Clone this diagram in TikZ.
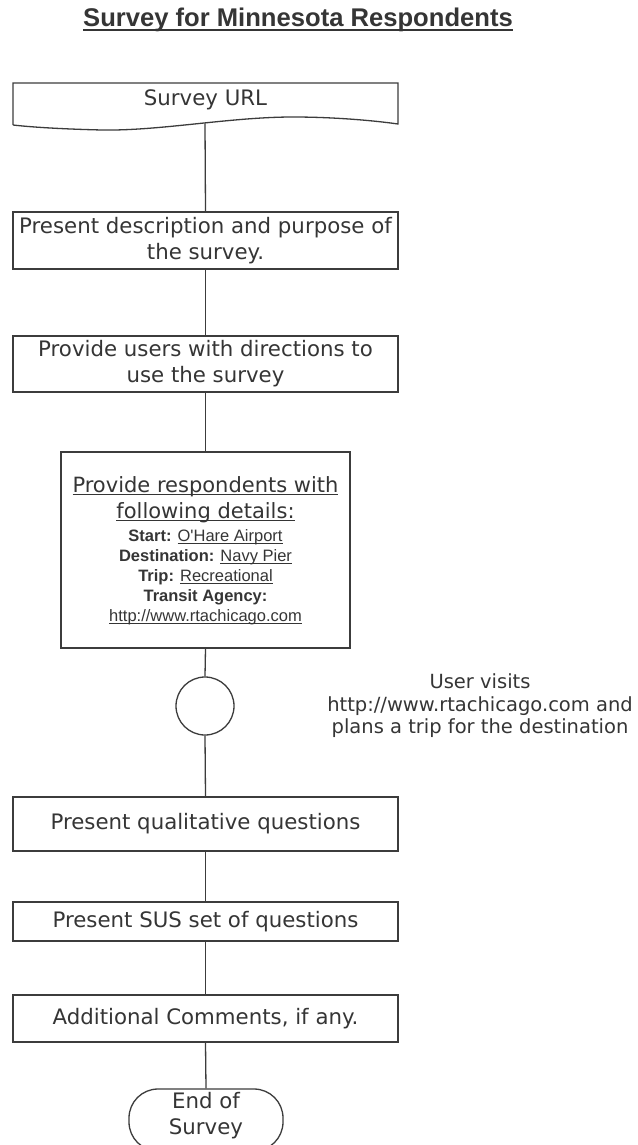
\documentclass[tikz,border=0pt]{standalone}
\usepackage{fontspec}
\setmainfont{DejaVu Sans}
\newfontfamily\arialfont{Liberation Sans}
\newcommand{\myul}[1]{\leavevmode\setbox0\hbox{#1}\rlap{\rule[-0.16em]{\wd0}{0.065em}}\box0}
\definecolor{linec}{HTML}{3C3C3C}
\definecolor{textc}{HTML}{353535}
\tikzset{
  ln/.style={draw=linec, line width=1.3pt},
  boxst/.style={draw=linec, line width=1.3pt, rectangle, minimum width=385pt, inner sep=0pt,
    align=center, text=textc, font=\fontsize{21.3}{26}\selectfont},
  txt/.style={text=textc, inner sep=0pt, align=center},
  detail/.style={txt, anchor=base, font=\arialfont\fontsize{16.5}{20}\selectfont},
}
\begin{document}
\begin{tikzpicture}[x=1pt,y=-1pt]
\useasboundingbox[fill=white] (0,0) rectangle (637,1145);

% title
\node[txt, anchor=base, font=\arialfont\bfseries\fontsize{25.6}{30}\selectfont] (title) at (298,26.5)
  {\myul{Survey for Minnesota Respondents}};

% document shape
\node[txt, minimum width=385pt, minimum height=41pt, font=\fontsize{21.3}{26}\selectfont] (doc) at (205.5,100) {Survey URL};
\draw[ln, line join=miter] (13,125) -- (13,83) -- (398,83) -- (398,124)
  .. controls (370,120) and (330,117) .. (293,117)
  .. controls (230,117) and (160,131) .. (102,130)
  .. controls (60,129) and (30,127) .. (13,125);
\coordinate (docw) at (205,123.5);

\node[boxst, minimum height=57pt] (b2) at (205.5,240.5) {Present description and purpose of\\the survey.};
\node[boxst, minimum height=56pt] (b3) at (205.5,364) {Provide users with directions to\\use the survey};

\node[boxst, minimum width=289pt, minimum height=196pt] (b4) at (205.5,550) {};
\node[txt, anchor=base, font=\fontsize{21}{26}\selectfont] (b4a) at (205.5,492) {\myul{Provide respondents with}};
\node[txt, anchor=base, font=\fontsize{21}{26}\selectfont] (b4b) at (205.5,518) {\myul{following details:}};
\node[detail] (b4c) at (205.5,541) {\textbf{Start:} \myul{O'Hare Airport}};
\node[detail] (b4d) at (205.5,561) {\textbf{Destination:} \myul{Navy Pier}};
\node[detail] (b4e) at (205.5,581) {\textbf{Trip:} \myul{Recreational}};
\node[detail] (b4f) at (205.5,601) {\textbf{Transit Agency:}};
\node[detail] (b4g) at (205.5,621) {\myul{http://www.rtachicago.com}};

\node[draw=linec, line width=1.3pt, circle, minimum size=58pt, inner sep=0pt] (circ) at (205,706) {};
\node[txt, font=\fontsize{19.5}{22.5}\selectfont] (note) at (480,706)
  {User visits\\http://www.rtachicago.com and\\plans a trip for the destination};

\node[boxst, minimum height=54pt] (b5) at (205.5,824) {Present qualitative questions};
\node[boxst, minimum height=39pt] (b6) at (205.5,921.5) {Present SUS set of questions};
\node[boxst, minimum height=47pt] (b7) at (205.5,1018.5) {Additional Comments, if any.};

\node[boxst, minimum width=154pt, minimum height=62pt, rounded corners=29pt] (endn) at (206,1120) {};
\node[txt, font=\fontsize{21.3}{26}\selectfont] (endt) at (206,1116) {End of\\Survey};

\draw[ln] (docw) -- (b2.north);
\draw[ln] (b2.south) -- (b3.north);
\draw[ln] (b3.south) -- (b4.north);
\draw[ln] (b4.south) -- (circ.north);
\draw[ln] (circ.south) -- (b5.north);
\draw[ln] (b5.south) -- (b6.north);
\draw[ln] (b6.south) -- (b7.north);
\draw[ln] (b7.south) -- (endn.north);
\end{tikzpicture}
\end{document}
